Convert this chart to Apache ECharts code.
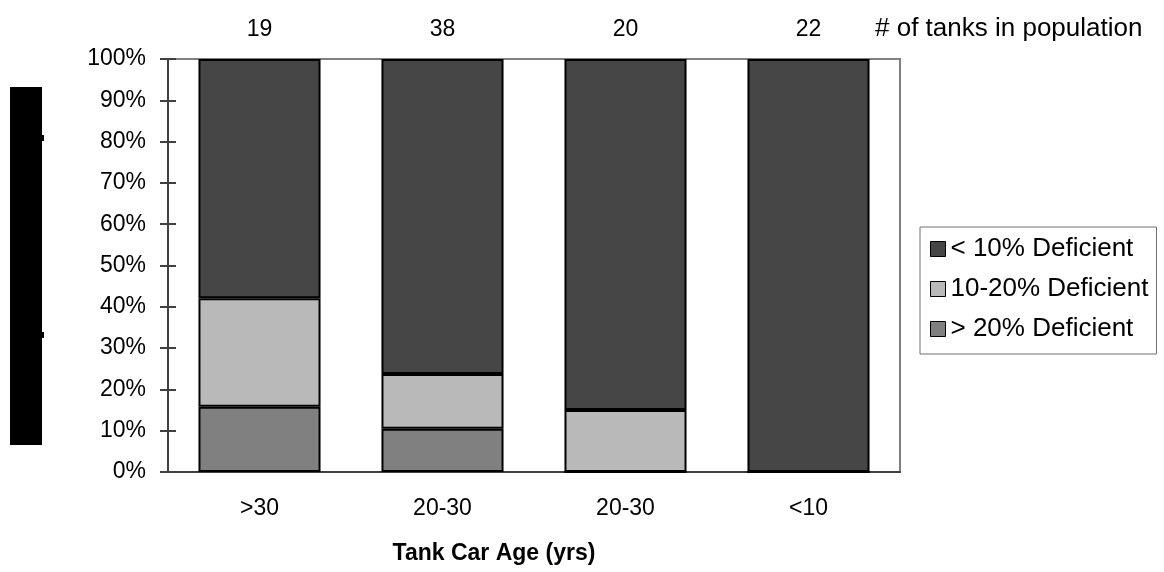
<!DOCTYPE html>
<html>
<head>
<meta charset="utf-8">
<script src="https://cdn.jsdelivr.net/npm/echarts@6/dist/echarts.min.js"></script>
<style>
html,body{margin:0;padding:0;background:#fff;}
#chart{width:1164px;height:572px;}
</style>
</head>
<body>
<div id="chart"></div>
<script>
// Data
var categories = ['>30', '20-30', '20-30', '<10'];
var tankCounts = ['19', '38', '20', '22'];
var over20 = [15.8, 10.5, 0, 0];      // > 20% Deficient
var mid1020 = [26.3, 13.2, 15, 0];    // 10-20% Deficient
var under10 = [57.9, 76.3, 85, 100];  // < 10% Deficient
var yTicks = [0, 10, 20, 30, 40, 50, 60, 70, 80, 90, 100];
var seriesNames = ['> 20% Deficient', '10-20% Deficient', '< 10% Deficient'];

var FONT = '"Liberation Sans", Arial, sans-serif';
var chart = echarts.init(document.getElementById('chart'));

function barSeries(name, data, color) {
  return {
    name: name, type: 'bar', stack: 'total', data: data,
    xAxisIndex: 0, yAxisIndex: 0,
    barCategoryGap: '33.3%',
    itemStyle: { color: color, borderColor: '#000', borderWidth: 2 },
    emphasis: { disabled: true }
  };
}

chart.setOption({
  animation: false,
  textStyle: { fontFamily: FONT },
  grid: { left: 168, right: 264, top: 59, bottom: 100, show: true, borderColor: '#808080', borderWidth: 2 },
  legend: {
    orient: 'vertical', left: 920, top: 227,
    data: [seriesNames[2], seriesNames[1], seriesNames[0]],
    icon: 'rect', itemWidth: 15, itemHeight: 15, itemGap: 14,
    padding: [9, 8, 12, 10],
    borderColor: '#707070', borderWidth: 1,
    itemStyle: { borderColor: '#000', borderWidth: 1 },
    textStyle: { fontSize: 26, color: '#000', fontFamily: FONT },
    selectedMode: false
  },
  xAxis: [
    {
      type: 'category', position: 'bottom', data: categories,
      axisLine: { lineStyle: { color: '#404040', width: 2 } },
      axisTick: { length: 8, lineStyle: { color: '#606060', width: 2 }, interval: 0 },
      axisLabel: { fontSize: 23, color: '#000', margin: 25, interval: 0 },
      name: 'Tank Car Age (yrs)', nameLocation: 'middle', nameGap: 70,
      nameTextStyle: { fontSize: 23, fontWeight: 'bold', color: '#000', padding: [0, 80, 0, 0] }
    },
    {
      type: 'category', position: 'top', data: tankCounts,
      axisLine: { show: false }, axisTick: { show: false },
      axisLabel: { fontSize: 23, color: '#000', margin: 18, interval: 0 }
    },
    {
      type: 'category', position: 'bottom', data: categories,
      axisLine: { show: false },
      axisTick: { inside: true, length: 7, lineStyle: { color: '#606060', width: 2 }, interval: 0 },
      axisLabel: { show: false }
    }
  ],
  yAxis: [
    {
      type: 'value', min: yTicks[0], max: yTicks[yTicks.length - 1], interval: 10,
      axisLine: { show: true, lineStyle: { color: '#404040', width: 2 } },
      axisTick: { show: true, length: 8, lineStyle: { color: '#404040', width: 2 } },
      axisLabel: { formatter: '{value}%', fontSize: 23, color: '#000', margin: 22 },
      splitLine: { show: false }
    },
    {
      type: 'value', min: yTicks[0], max: yTicks[yTicks.length - 1], interval: 10, position: 'left',
      axisLine: { show: false },
      axisTick: { show: true, inside: true, length: 8, lineStyle: { color: '#404040', width: 2 } },
      axisLabel: { show: false },
      splitLine: { show: false }
    }
  ],
  series: [
    barSeries(seriesNames[0], over20, '#808080'),
    barSeries(seriesNames[1], mid1020, '#b9b9b9'),
    barSeries(seriesNames[2], under10, '#464646')
  ],
  graphic: [
    { type: 'rect', left: 10, top: 87, shape: { width: 32, height: 358 }, style: { fill: '#000' } },
    { type: 'rect', left: 42, top: 135, shape: { width: 2, height: 6 }, style: { fill: '#000' } },
    { type: 'rect', left: 42, top: 332, shape: { width: 2, height: 6 }, style: { fill: '#000' } },
    { type: 'text', left: 875, top: 16, style: { text: '# of tanks in population', font: '26px ' + FONT, fill: '#000' } }
  ]
});
</script>
</body>
</html>
